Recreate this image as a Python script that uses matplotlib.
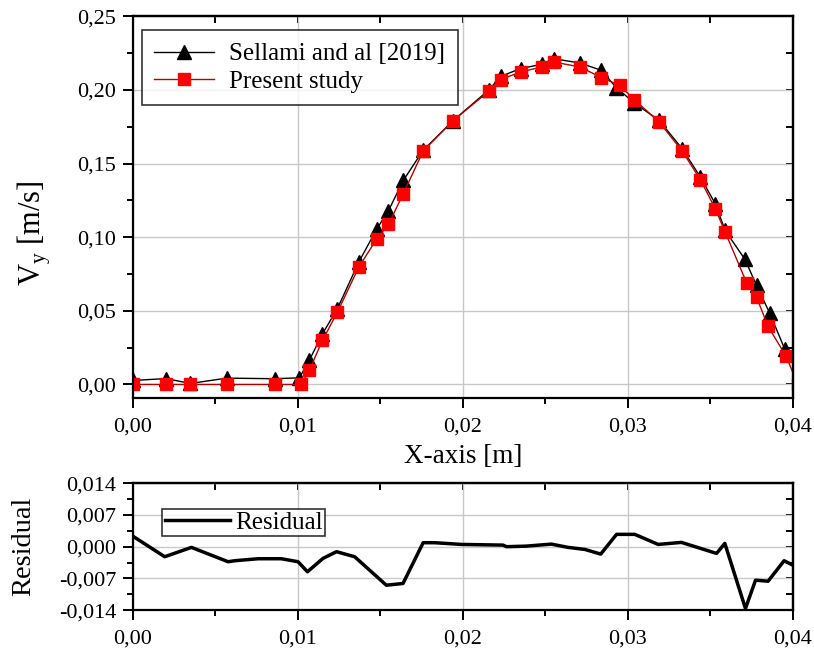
import matplotlib
matplotlib.use('Agg')
import matplotlib.pyplot as plt
from matplotlib.ticker import FuncFormatter, MultipleLocator

plt.rcParams['font.family'] = ['Liberation Serif', 'DejaVu Serif']
plt.rcParams['mathtext.fontset'] = 'custom'
plt.rcParams['mathtext.rm'] = 'Liberation Serif'

# Sellami and al [2019]
x_ref = [0.0, 0.0020, 0.0035, 0.0057, 0.0086, 0.0101, 0.0107, 0.0115, 0.0124, 0.0137,
         0.0148, 0.0155, 0.0164, 0.0176, 0.0194, 0.0216, 0.0223, 0.0235, 0.0248, 0.0255,
         0.0271, 0.0284, 0.0293, 0.0304, 0.0319, 0.0333, 0.0344, 0.0353, 0.0359, 0.0371,
         0.0378, 0.0386, 0.0395, 0.0404]
vy_ref = [0.0027, 0.0040, 0.0007, 0.0043, 0.0039, 0.0045, 0.0163, 0.0344, 0.0514, 0.0831,
          0.1058, 0.1180, 0.1386, 0.1590, 0.1790, 0.2002, 0.2092, 0.2145, 0.2174, 0.2212,
          0.2183, 0.2133, 0.2016, 0.1911, 0.1793, 0.1600, 0.1408, 0.1227, 0.1046, 0.0849,
          0.0673, 0.0484, 0.0243, 0.0080]

# Present study
x_pre = [0.0, 0.0020, 0.0035, 0.0057, 0.0086, 0.0102, 0.0107, 0.0115, 0.0124, 0.0137,
         0.0148, 0.0155, 0.0164, 0.0176, 0.0194, 0.0216, 0.0223, 0.0235, 0.0248, 0.0255,
         0.0271, 0.0284, 0.0295, 0.0304, 0.0319, 0.0333, 0.0344, 0.0353, 0.0359, 0.0372,
         0.0378, 0.0385, 0.0396, 0.0403]
vy_pre = [0.0, 0.0, 0.0, 0.0, 0.0, 0.0, 0.0095, 0.0300, 0.0490, 0.0797,
          0.0990, 0.1087, 0.1296, 0.1585, 0.1790, 0.1993, 0.2070, 0.2122, 0.2156, 0.2190,
          0.2156, 0.2084, 0.2031, 0.1934, 0.1782, 0.1585, 0.1390, 0.1194, 0.1035, 0.0690,
          0.0593, 0.0394, 0.0190, 0.0]

# Residual
x_res = [0.0, 0.00194, 0.00356, 0.00578, 0.00618, 0.0076, 0.00901, 0.01002, 0.01059, 0.01153,
         0.01235, 0.01345, 0.01537, 0.01638, 0.0176, 0.0183, 0.01992, 0.02244, 0.02265, 0.02386,
         0.02537, 0.02638, 0.0274, 0.02836, 0.02932, 0.03042, 0.03184, 0.03325, 0.03538, 0.03588,
         0.03713, 0.03774, 0.0385, 0.03947, 0.0400]
r_res = [0.00234, -0.00221, -0.00015, -0.00331, -0.00309, -0.00265, -0.00265, -0.00331, -0.00552, -0.00258,
         -0.0011, -0.00221, -0.00848, -0.0081, 0.00088, 0.00088, 0.0005, 0.00035, 0.0, 0.00013,
         0.00057, -0.00015, -0.0006, -0.00163, 0.00272, 0.00272, 0.0005, 0.00095, -0.00148, 0.00073,
         -0.01362, -0.00737, -0.0076, -0.00309, -0.00406]


def comma(nd):
    return FuncFormatter(lambda v, p: ('{:.%df}' % nd).format(v).replace('.', ','))


def style_axes(ax, xstep, ystep):
    ax.xaxis.set_major_locator(MultipleLocator(xstep))
    ax.xaxis.set_minor_locator(MultipleLocator(xstep / 2))
    ax.yaxis.set_major_locator(MultipleLocator(ystep))
    ax.yaxis.set_minor_locator(MultipleLocator(ystep / 2))
    for s in ax.spines.values():
        s.set_linewidth(1.6)
    ax.tick_params(which='both', direction='out', width=1.4, top=False, right=False)
    ax.tick_params(which='major', length=7, labelsize=16)
    ax.tick_params(axis='x', which='major', pad=7)
    ax.tick_params(axis='y', which='major', pad=5)
    ax.tick_params(which='minor', length=4)
    ax.grid(True, which='major', color='#c8c8c8', linewidth=1.0)
    ax.set_axisbelow(True)
    # inward ticks on top and right
    top = ax.secondary_xaxis('top')
    top.xaxis.set_major_locator(MultipleLocator(xstep / 2))
    top.tick_params(direction='in', length=5, width=1.4, labeltop=False)
    right = ax.secondary_yaxis('right')
    right.yaxis.set_major_locator(MultipleLocator(ystep / 2))
    right.tick_params(direction='in', length=5, width=1.4, labelright=False)
    for s in list(top.spines.values()) + list(right.spines.values()):
        s.set_linewidth(1.6)


fig = plt.figure(figsize=(8.14, 6.52), dpi=100)
ax1 = fig.add_axes([0.163, 0.390, 0.811, 0.585])
ax2 = fig.add_axes([0.163, 0.064, 0.811, 0.195])

ax1.plot(x_ref, vy_ref, color='black', linewidth=1.0, marker='^', markersize=10,
         markerfacecolor='black', markeredgecolor='black', label='Sellami and al [2019]')
ax1.plot(x_pre, vy_pre, color='#b00000', linewidth=1.0, marker='s', markersize=8.5,
         markerfacecolor='#ff0000', markeredgecolor='#ff0000', label='Present study')

ax1.set_xlim(0, 0.04)
ax1.set_ylim(-0.009, 0.25)
ax1.xaxis.set_major_formatter(comma(2))
ax1.yaxis.set_major_formatter(comma(2))
style_axes(ax1, 0.01, 0.05)
ax1.set_xlabel('X-axis [m]', fontsize=19.5, labelpad=6)
ax1.set_ylabel(r'V$_\mathregular{y}$ [m/s]', fontsize=22)
ax1.yaxis.set_label_coords(-0.12, 0.43)
leg = ax1.legend(loc='upper left', fontsize=18, frameon=True, fancybox=False,
                 edgecolor='black', handlelength=2.4, handletextpad=0.6,
                 borderpad=0.5, labelspacing=0.2, borderaxespad=0,
                 bbox_to_anchor=(0.014, 0.963))
leg.get_frame().set_linewidth(1.2)

ax2.plot(x_res, r_res, color='black', linewidth=2.5, label='Residual')
ax2.set_xlim(0, 0.04)
ax2.set_ylim(-0.014, 0.014)
ax2.xaxis.set_major_formatter(comma(2))
ax2.yaxis.set_major_formatter(comma(3))
style_axes(ax2, 0.01, 0.007)
ax2.set_ylabel('Residual', fontsize=20.5, labelpad=16)
leg2 = ax2.legend(loc='upper left', fontsize=18, frameon=True, fancybox=False,
                  edgecolor='black', handlelength=2.6, handletextpad=0.2,
                  borderpad=0.1, borderaxespad=0,
                  bbox_to_anchor=(0.045, 0.80))
leg2.get_frame().set_linewidth(1.2)

fig.savefig('out.png', dpi=100)
